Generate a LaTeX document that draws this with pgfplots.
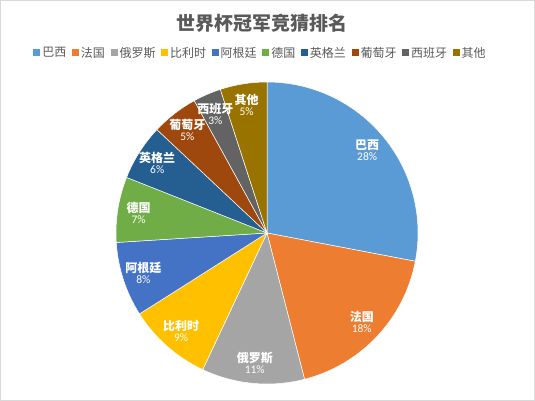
\documentclass[border=0pt]{standalone}
\usepackage{pgfplots}
\usepackage{pgfplotstable}
\pgfplotsset{compat=1.18}
\usepackage{fontspec}
\setmainfont{Noto Sans CJK SC}
\newfontfamily\pctfont{Carlito}

\definecolor{c1}{HTML}{5B9BD5}
\definecolor{c2}{HTML}{ED7D31}
\definecolor{c3}{HTML}{A5A5A5}
\definecolor{c4}{HTML}{FFC000}
\definecolor{c5}{HTML}{4472C4}
\definecolor{c6}{HTML}{70AD47}
\definecolor{c7}{HTML}{255E91}
\definecolor{c8}{HTML}{9E480E}
\definecolor{c9}{HTML}{636363}
\definecolor{c10}{HTML}{997300}
\definecolor{txtgray}{HTML}{595959}
\definecolor{framegray}{HTML}{D9D9D9}

% share of each team, in per cent
\pgfplotstableread{
name   value  color
巴西     28     c1
法国     18     c2
俄罗斯   11     c3
比利时   9      c4
阿根廷   8      c5
德国     7      c6
英格兰   6      c7
葡萄牙   5      c8
西班牙   3      c9
其他     5      c10
}\piedata

\newcommand{\slicelabel}[2]{%
  {\fontsize{12}{14}\selectfont\bfseries #1}\\[-1pt]
  {\fontsize{11.5}{12}\pctfont #2\%}}

\begin{document}
\begin{tikzpicture}
\begin{axis}[
  x=1pt, y=1pt,
  xmin=0, xmax=535,
  ymin=0, ymax=401,
  hide axis,
  clip=false,
  legend columns=10,
  legend image code/.code={\fill[#1] (0pt,-3.5pt) rectangle (7pt,3.5pt);},
  legend style={
    at={(0.487,0.868)}, anchor=center,
    draw=none, fill=none,
    font=\fontsize{12}{14}\selectfont,
    text=txtgray,
    nodes={inner xsep=2pt, inner ysep=1pt},
    /tikz/every even column/.append style={column sep=3.6pt},
  },
]
\draw[framegray, line width=0.8pt] (axis cs:0.4,0.4) rectangle (axis cs:534.6,400.6);
\node[text=txtgray, font=\fontsize{19}{21}\selectfont\bfseries]
  at (axis cs:262,378) {世界杯冠军竞猜排名};

% slices
\def\cum{0}
\pgfplotsforeachungrouped \i in {0,...,9}{
  \pgfplotstablegetelem{\i}{value}\of\piedata \let\val\pgfplotsretval
  \pgfplotstablegetelem{\i}{color}\of\piedata \let\col\pgfplotsretval
  \pgfmathsetmacro\aS{90-3.6*\cum}
  \pgfmathsetmacro\aE{90-3.6*(\cum+\val)}
  \pgfmathsetmacro\cum{\cum+\val}
  \edef\temp{%
    \noexpand\fill[\col, draw=white, line width=0.5pt] (axis cs:267,168)
      -- ++(\aS:151pt) arc[start angle=\aS, end angle=\aE, radius=151pt] -- cycle;
  }
  \temp
}

% labels on top of all slices
\def\cum{0}
\pgfplotsforeachungrouped \i in {0,...,9}{
  \pgfplotstablegetelem{\i}{value}\of\piedata \let\val\pgfplotsretval
  \pgfplotstablegetelem{\i}{name}\of\piedata \let\nm\pgfplotsretval
  \pgfmathsetmacro\aM{90-3.6*(\cum+\val/2)}
  \pgfmathsetmacro\cum{\cum+\val}
  \edef\temp{%
    \noexpand\node[align=center, text=white, inner sep=0pt]
      at ([shift={(\aM:130pt)}]axis cs:267,168) {\noexpand\slicelabel{\nm}{\val}};
  }
  \temp
}

\pgfplotsinvokeforeach{0,...,9}{
  \pgfplotstablegetelem{#1}{color}\of\piedata \let\col\pgfplotsretval
  \pgfplotstablegetelem{#1}{name}\of\piedata \let\nm\pgfplotsretval
  \edef\temp{\noexpand\addlegendimage{fill=\col, draw=none}
    \noexpand\addlegendentry{\nm}}
  \temp
}
\end{axis}
\end{tikzpicture}
\end{document}
